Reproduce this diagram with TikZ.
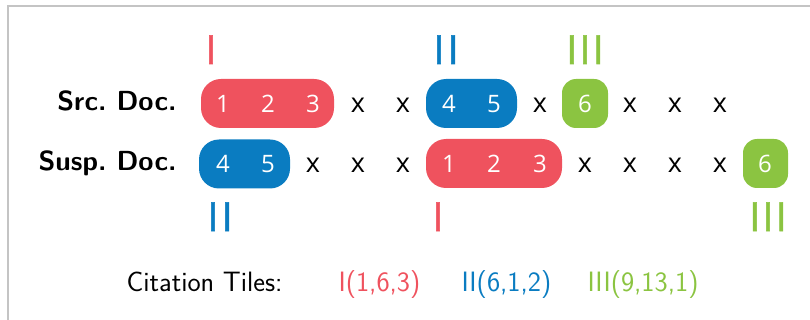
\documentclass[tikz,border=0pt]{standalone}
\usepackage{fontspec}
\newfontfamily\tokfont{Open Sans}
\newfontfamily\romfont[FakeBold=1.3]{Open Sans}
\definecolor{tilered}{HTML}{EF525E}
\definecolor{tileblue}{HTML}{0A7CC1}
\definecolor{tilegreen}{HTML}{8BC441}
\definecolor{framegray}{HTML}{C4C4C4}

\begin{document}
\begin{tikzpicture}[x=1pt,y=-1pt,
        tile/.style={rounded corners=20pt,minimum height=49pt,inner sep=0pt},
        tok/.style={anchor=base,text=white,font=\tokfont\fontsize{24}{24}\selectfont},
        xmark/.style={anchor=base,font=\tokfont\fontsize{27}{27}\selectfont},
        roman/.style={anchor=base,font=\romfont\fontsize{40}{40}\selectfont},
        doclabel/.style={anchor=base east,font=\sffamily\bfseries\fontsize{27.6}{30}\selectfont},
        legend/.style={anchor=base west,font=\sffamily\fontsize{28}{30}\selectfont}]
        \useasboundingbox(0,0)rectangle(810,320);
        \draw[framegray,line width=1.3pt](8,320)--(8,6)--(810,6);

        % source document
        \node[doclabel](srclabel)at(180,111){Src.\ Doc.};
        \node[tile,fill=tilered,minimum width=133pt](srcI)at(267.5,103.5){};
        \node[tile,fill=tileblue,minimum width=91pt](srcII)at(471.5,103.5){};
        \node[tile,fill=tilegreen,minimum width=46pt,rounded corners=14pt](srcIII)at(585,103.5){};
        \node[tok](s1)at(223,113){1};
        \node[tok](s2)at(268,113){2};
        \node[tok](s3)at(313,113){3};
        \node[tok](s4)at(449,113){4};
        \node[tok](s5)at(494,113){5};
        \node[tok](s6)at(585,113){6};
        \foreach \px [count=\k] in {358,403,540,630,675,720}
            \node[xmark](sx\k)at(\px,113){x};

        % suspicious document
        \node[doclabel](susplabel)at(180,171){Susp.\ Doc.};
        \node[tile,fill=tileblue,minimum width=91pt](suspII)at(244.5,164){};
        \node[tile,fill=tilered,minimum width=136pt](suspI)at(494,163.5){};
        \node[tile,fill=tilegreen,minimum width=45pt,rounded corners=14pt](suspIII)at(765.5,163.5){};
        \node[tok](u4)at(223,173){4};
        \node[tok](u5)at(268,173){5};
        \node[tok](u1)at(449,173){1};
        \node[tok](u2)at(494,173){2};
        \node[tok](u3)at(540,173){3};
        \node[tok](u6)at(765,173){6};
        \foreach \px [count=\k] in {313,358,403,585,630,675,720}
            \node[xmark](ux\k)at(\px,173){x};

        % tile numbers
        \node[roman,text=tilered](topI)at(211,64){I};
        \node[roman,text=tileblue](topII)at(446,64){I\kern3pt I};
        \node[roman,text=tilegreen](topIII)at(585,64){I\kern2pt I\kern2pt I};
        \node[roman,text=tileblue](botII)at(220,231){I\kern3pt I};
        \node[roman,text=tilered](botI)at(438,231){I};
        \node[roman,text=tilegreen](botIII)at(768,231){I\kern2pt I\kern2pt I};

        % legend
        \node[legend](cite)at(123,291){Citation Tiles:};
        \node[legend,text=tilered](citeI)at(335,291){I(1,6,3)};
        \node[legend,text=tileblue](citeII)at(458,291){II(6,1,2)};
        \node[legend,text=tilegreen](citeIII)at(584,291){III(9,13,1)};
\end{tikzpicture}
\end{document}
